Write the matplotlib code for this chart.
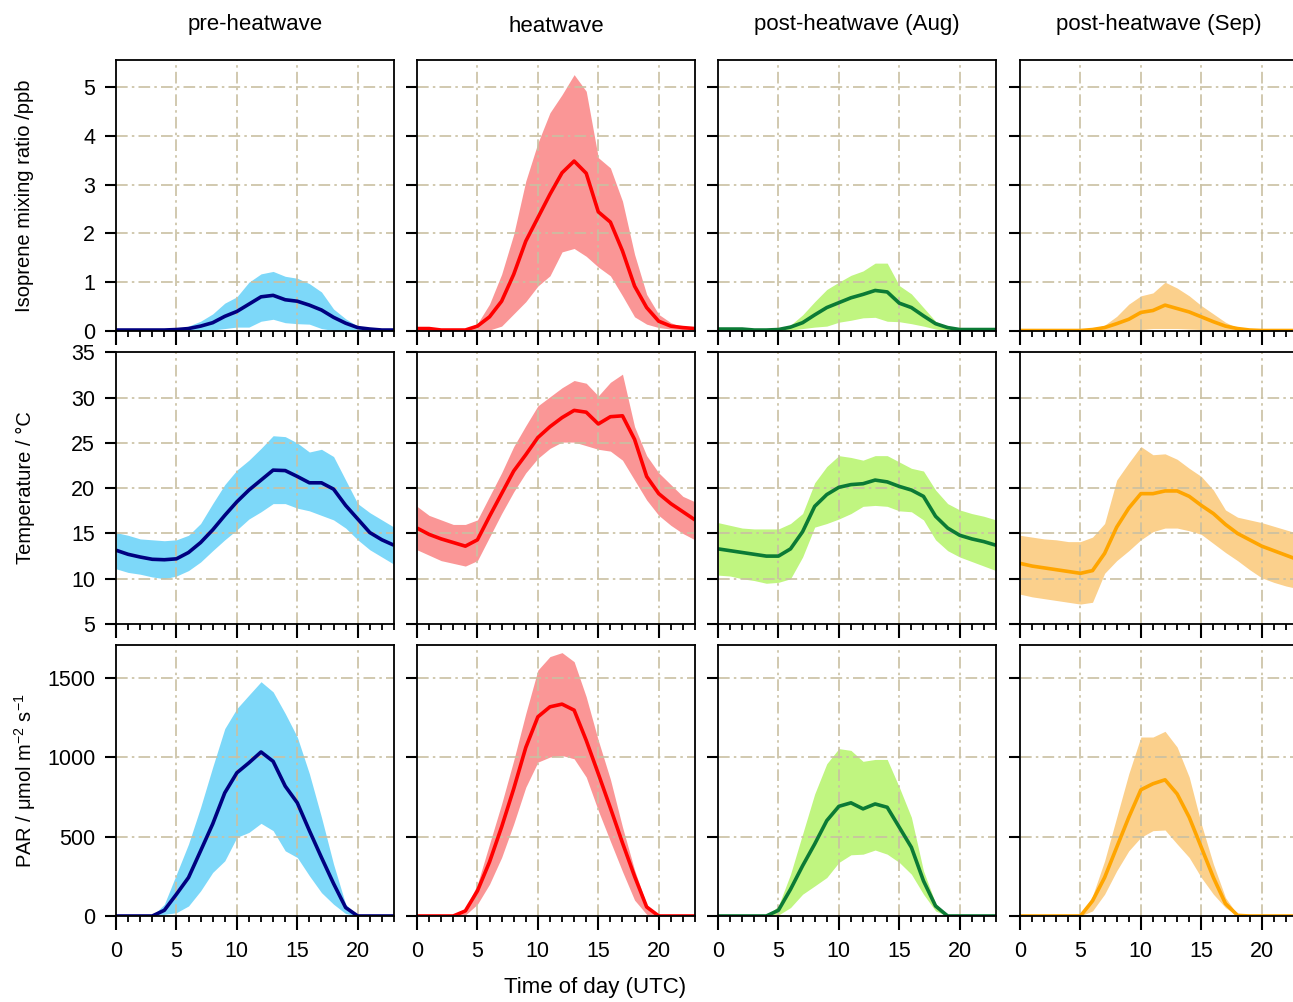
import matplotlib
matplotlib.use("Agg")
import matplotlib.pyplot as plt
from matplotlib.ticker import MultipleLocator

plt.rcParams['font.family'] = ['Liberation Sans', 'DejaVu Sans']
plt.rcParams['mathtext.default'] = 'regular'

hours = list(range(24))
periods = ["pre-heatwave", "heatwave", "post-heatwave (Aug)", "post-heatwave (Sep)"]
fill_colors = ["#7DD8F9", "#FA9696", "#C0F580", "#FBD08C"]
line_colors = ["#000080", "#FF0000", "#0B7A35", "#FFA500"]

# ---- Isoprene (ppb) ----
iso_pre_mean = [0.02,0.02,0.02,0.02,0.02,0.03,0.05,0.10,0.17,0.30,0.40,0.55,0.70,0.73,0.64,0.61,0.53,0.43,0.28,0.16,0.07,0.04,0.02,0.02]
iso_pre_hi   = [0.02,0.02,0.02,0.02,0.02,0.04,0.10,0.20,0.35,0.57,0.70,1.00,1.17,1.22,1.12,1.08,0.97,0.80,0.45,0.25,0.10,0.04,0.02,0.02]
iso_pre_lo   = [0.01,0.01,0.01,0.01,0.01,0.01,0.01,0.01,0.02,0.05,0.08,0.08,0.20,0.24,0.17,0.15,0.14,0.05,0.01,0.00,0.00,0.00,0.00,0.00]

iso_heat_mean = [0.05,0.05,0.02,0.02,0.02,0.10,0.29,0.61,1.16,1.84,2.32,2.80,3.24,3.48,3.23,2.44,2.23,1.64,0.92,0.48,0.20,0.10,0.07,0.05]
iso_heat_hi   = [0.05,0.05,0.03,0.03,0.03,0.15,0.55,1.16,1.98,3.07,3.85,4.47,4.84,5.25,4.91,3.55,3.34,2.66,1.57,0.75,0.34,0.17,0.08,0.05]
iso_heat_lo   = [0.03,0.02,0.01,0.01,0.01,0.02,0.02,0.10,0.35,0.60,0.92,1.13,1.62,1.69,1.53,1.31,1.13,0.72,0.29,0.14,0.07,0.04,0.03,0.03]

iso_aug_mean = [0.04,0.04,0.04,0.02,0.02,0.03,0.08,0.17,0.33,0.48,0.58,0.68,0.75,0.83,0.80,0.57,0.48,0.31,0.15,0.07,0.03,0.03,0.03,0.03]
iso_aug_hi   = [0.04,0.04,0.04,0.03,0.03,0.04,0.12,0.33,0.60,0.85,1.00,1.14,1.23,1.39,1.39,0.93,0.76,0.48,0.20,0.08,0.04,0.03,0.03,0.03]
iso_aug_lo   = [0.02,0.02,0.02,0.01,0.01,0.01,0.02,0.05,0.08,0.10,0.18,0.22,0.27,0.28,0.20,0.19,0.15,0.10,0.04,0.01,0.01,0.01,0.01,0.01]

iso_sep_mean = [0.01,0.01,0.01,0.01,0.01,0.01,0.03,0.07,0.15,0.24,0.38,0.42,0.53,0.46,0.39,0.29,0.19,0.10,0.05,0.02,0.01,0.01,0.01,0.01]
iso_sep_hi   = [0.01,0.01,0.01,0.01,0.01,0.01,0.04,0.12,0.30,0.55,0.72,0.78,1.00,0.88,0.72,0.52,0.35,0.18,0.06,0.02,0.01,0.01,0.01,0.01]
iso_sep_lo   = [0.00,0.00,0.00,0.00,0.00,0.00,0.01,0.01,0.02,0.02,0.03,0.05,0.05,0.05,0.04,0.03,0.02,0.01,0.00,0.00,0.00,0.00,0.00,0.00]

# ---- Temperature (degC) ----
temp_pre_mean = [13.15,12.7,12.4,12.15,12.1,12.2,12.9,14.0,15.4,17.0,18.5,19.8,20.9,22.0,21.95,21.3,20.6,20.6,19.9,18.1,16.6,15.1,14.3,13.7]
temp_pre_hi   = [15.1,14.8,14.4,14.3,14.2,14.3,14.8,16.1,18.3,20.4,22.0,23.1,24.4,25.8,25.7,25.0,24.0,24.3,23.5,20.9,18.3,17.3,16.5,15.7]
temp_pre_lo   = [11.1,10.7,10.5,10.2,10.0,10.3,10.9,11.85,13.1,14.3,15.4,16.6,17.4,18.3,18.3,17.8,17.5,17.0,16.5,15.6,14.3,13.2,12.4,11.6]

temp_heat_mean = [15.6,14.9,14.4,14.0,13.6,14.3,16.9,19.4,21.9,23.7,25.6,26.8,27.8,28.6,28.4,27.1,27.9,28.0,25.4,21.3,19.4,18.3,17.4,16.5]
temp_heat_hi   = [18.0,17.0,16.5,16.0,16.0,16.5,19.1,21.7,24.6,26.9,29.1,30.1,31.1,31.9,31.6,30.2,31.7,32.6,26.8,23.6,21.7,20.4,19.1,18.5]
temp_heat_lo   = [13.2,12.6,12.0,11.7,11.4,12.0,14.6,17.2,19.6,21.7,23.3,24.4,25.1,25.1,24.7,24.3,24.1,23.1,20.9,18.7,17.0,15.9,15.0,14.3]

temp_aug_mean = [13.3,13.1,12.9,12.7,12.5,12.5,13.3,15.2,18.0,19.3,20.1,20.4,20.5,20.9,20.7,20.2,19.8,19.1,16.9,15.6,14.8,14.4,14.1,13.7]
temp_aug_hi   = [16.2,15.9,15.6,15.5,15.5,15.5,16.1,17.2,20.6,22.4,23.6,23.4,23.1,23.6,23.6,22.9,22.2,21.9,19.8,18.3,17.6,17.2,16.9,16.5]
temp_aug_lo   = [10.4,10.3,10.0,9.8,9.5,9.6,10.0,12.4,15.7,16.1,16.6,17.2,18.0,18.1,18.0,17.5,17.4,16.5,14.3,13.1,12.4,11.9,11.4,10.9]

temp_sep_mean = [11.7,11.4,11.2,11.0,10.8,10.6,10.9,12.8,15.7,17.8,19.4,19.4,19.7,19.7,19.1,18.1,17.2,16.0,15.0,14.3,13.6,13.1,12.6,12.1]
temp_sep_hi   = [14.8,14.6,14.4,14.3,14.1,14.1,14.6,16.1,20.9,22.8,24.6,23.7,23.8,23.2,22.2,21.3,19.8,17.6,16.8,16.5,16.2,15.8,15.4,15.0]
temp_sep_lo   = [8.3,8.0,7.8,7.6,7.4,7.2,7.4,10.6,12.0,13.1,14.3,15.2,15.6,15.6,15.3,14.9,13.9,12.9,12.0,11.0,10.1,9.6,9.2,8.9]

# ---- PAR (umol m-2 s-1) ----
par_pre_mean = [0,0,0,0,36,137,242,410,579,775,901,964,1032,973,817,712,537,368,204,53,0,0,0,0]
par_pre_hi   = [0,0,0,0,74,263,453,684,937,1179,1305,1390,1474,1410,1274,1126,895,621,326,74,0,0,0,0]
par_pre_lo   = [0,0,0,0,10,21,63,158,274,347,495,526,583,537,410,368,253,147,74,15,0,0,0,0]

par_heat_mean = [0,0,0,0,32,158,340,560,800,1060,1253,1316,1333,1295,1105,895,680,460,250,57,0,0,0,0]
par_heat_hi   = [0,0,0,0,42,200,453,705,979,1274,1547,1632,1657,1600,1379,1105,860,560,290,70,0,0,0,0]
par_heat_lo   = [0,0,0,0,6,74,200,368,579,810,968,1000,1010,989,874,663,470,280,100,10,0,0,0,0]

par_aug_mean = [0,0,0,0,0,36,168,316,453,600,690,712,674,705,684,558,432,221,63,0,0,0,0,0]
par_aug_hi   = [0,0,0,0,0,63,263,516,768,958,1053,1042,973,985,985,810,621,284,80,0,0,0,0,0]
par_aug_lo   = [0,0,0,0,0,6,53,137,189,242,337,385,389,415,389,337,263,137,32,0,0,0,0,0]

par_sep_mean = [0,0,0,0,0,0,95,242,432,621,794,832,857,768,621,432,242,78,4,0,0,0,0,0]
par_sep_hi   = [0,0,0,0,0,0,126,347,621,895,1126,1126,1162,1063,874,579,326,116,6,0,0,0,0,0]
par_sep_lo   = [0,0,0,0,0,0,32,137,284,410,495,537,541,453,368,242,137,53,0,0,0,0,0,0]

rows = [
    [(iso_pre_mean, iso_pre_lo, iso_pre_hi), (iso_heat_mean, iso_heat_lo, iso_heat_hi),
     (iso_aug_mean, iso_aug_lo, iso_aug_hi), (iso_sep_mean, iso_sep_lo, iso_sep_hi)],
    [(temp_pre_mean, temp_pre_lo, temp_pre_hi), (temp_heat_mean, temp_heat_lo, temp_heat_hi),
     (temp_aug_mean, temp_aug_lo, temp_aug_hi), (temp_sep_mean, temp_sep_lo, temp_sep_hi)],
    [(par_pre_mean, par_pre_lo, par_pre_hi), (par_heat_mean, par_heat_lo, par_heat_hi),
     (par_aug_mean, par_aug_lo, par_aug_hi), (par_sep_mean, par_sep_lo, par_sep_hi)],
]
row_ylabels = ["Isoprene mixing ratio /ppb", "Temperature / °C", "PAR / μmol m$^{-2}$ s$^{-1}$"]
row_ylims = [(0, 5.55), (5, 35.05), (0, 1705)]
row_yticks = [[0, 1, 2, 3, 4, 5], [5, 10, 15, 20, 25, 30, 35], [0, 500, 1000, 1500]]
x_major = [0, 5, 10, 15, 20]

W, H = 1293, 1002
fig = plt.figure(figsize=(W / 100, H / 100), dpi=100)

col_left = [116, 417, 718, 1020]
axw = 278
row_top = [60, 352, 645]
row_h = [271, 272, 271]
grid_color = "#C9C0A2"
dash = (0, (7, 2.5, 1.5, 2.5))

for r in range(3):
    for c in range(4):
        L, T, h = col_left[c], row_top[r], row_h[r]
        ax = fig.add_axes([L / W, 1 - (T + h) / H, axw / W, h / H])
        mean, lo, hi = rows[r][c]
        ax.fill_between(hours, lo, hi, color=fill_colors[c], lw=0, zorder=1)
        ax.plot(hours, mean, color=line_colors[c], lw=2.6, zorder=4,
                solid_joinstyle='round', solid_capstyle='butt')
        ax.set_xlim(0, 23)
        ax.set_ylim(*row_ylims[r])
        ax.set_xticks(x_major)
        ax.xaxis.set_minor_locator(MultipleLocator(1))
        ax.set_yticks(row_yticks[r])
        for xv in x_major[1:]:
            ax.axvline(xv, color=grid_color, lw=1.2, ls=dash, zorder=2)
        for yv in row_yticks[r]:
            if row_ylims[r][0] < yv < row_ylims[r][1] - 0.1:
                ax.axhline(yv, color=grid_color, lw=1.2, ls=dash, zorder=2)
        for s in ax.spines.values():
            s.set_linewidth(1.3)
            s.set_zorder(5)
        ax.tick_params(axis='x', which='major', direction='out', length=10, width=1.5, pad=8,
                       labelsize=15.5)
        ax.tick_params(axis='x', which='minor', direction='out', length=4.3, width=1.3)
        ax.tick_params(axis='y', which='major', direction='out', length=8, width=1.5, pad=7,
                       labelsize=15.5)
        if r < 2:
            ax.tick_params(axis='x', labelbottom=False)
        if c > 0:
            ax.tick_params(axis='y', labelleft=False)
        if r == 0:
            ty = 32 if c == 1 else 30
            fig.text((L + axw / 2) / W, 1 - ty / H, periods[c], fontsize=16,
                     ha='center', va='baseline')
    fig.text(25 / W, 1 - (row_top[r] + row_h[r] / 2) / H, row_ylabels[r], rotation=90,
             fontsize=14.5, ha='center', va='center')

fig.text(595 / W, 1 - 993 / H, "Time of day (UTC)", fontsize=16, ha='center', va='baseline')

fig.savefig("out.png", dpi=100)
